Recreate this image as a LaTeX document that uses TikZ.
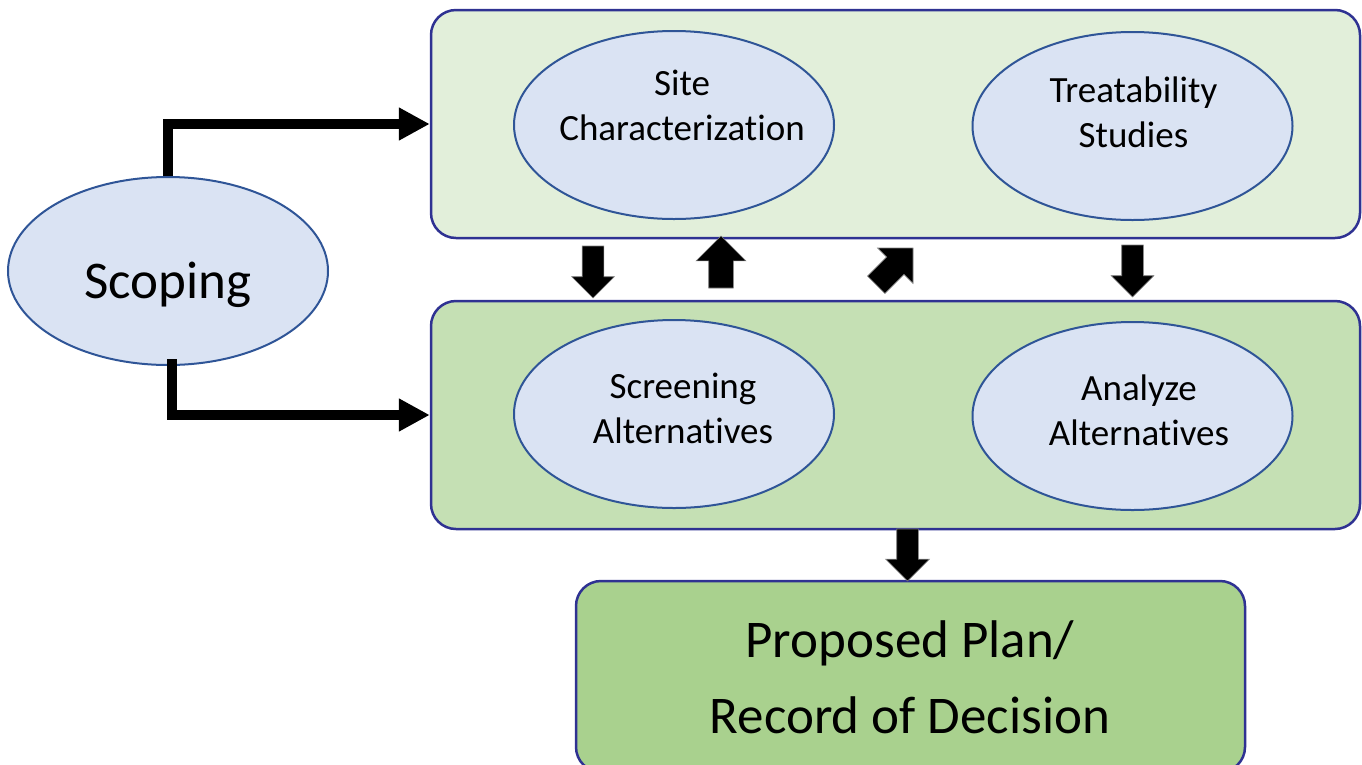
\documentclass[tikz,border=0pt]{standalone}
\usepackage{fontspec}
\setmainfont{Carlito}[Ligatures=NoCommon]
\usetikzlibrary{shapes.geometric,shapes.arrows,arrows.meta}

\definecolor{ellfill}{HTML}{DAE3F3}
\definecolor{ellline}{HTML}{2F5597}
\definecolor{boxline}{HTML}{2F3292}
\definecolor{palegreen}{HTML}{E2EFDA}
\definecolor{midgreen}{HTML}{C5E0B4}
\definecolor{deepgreen}{HTML}{A9D18E}

\tikzset{
    phase/.style={draw=boxline, line width=2.5pt, rounded corners=25pt, minimum width=929pt, minimum height=228pt, inner sep=0pt},
    task/.style={ellipse, draw=ellline, fill=ellfill, line width=2pt, minimum width=320pt, minimum height=188pt, inner sep=0pt},
    tasktext/.style={align=center, inner sep=0pt, font=\fontsize{37}{45}\selectfont},
    bigtext/.style={align=center, inner sep=0pt, font=\fontsize{53}{76}\selectfont},
    blockarrow/.style 2 args={single arrow, fill=black, draw=gray, line width=0.6pt, inner sep=#1, outer sep=0pt, single arrow head extend=#2, minimum height=52pt, anchor=tip},
    elbow/.style={line width=10.5pt, -{Triangle[length=31pt, width=31pt]}}
}

\begin{document}
\begin{tikzpicture}[x=1pt, y=-1pt]
    \useasboundingbox (0, 0) rectangle (1362, 764);

    \node[phase, fill=palegreen] (phase1) at (895.5, 124) {};
    \node[phase, fill=midgreen] (phase2) at (895.5, 415) {};
    \node[phase, fill=deepgreen, minimum width=669pt, minimum height=191pt] (decision) at (910.5, 676.5) {};

    \node[task] (scoping) at (168, 271) {};
    \node[task] (site) at (674, 125) {};
    \node[task] (treat) at (1132.5, 126) {};
    \node[task] (screen) at (674, 414) {};
    \node[task] (analyze) at (1132.5, 416) {};

    \node[bigtext, anchor=base] (scoping-t) at (168, 298) {Scoping};
    \node[tasktext] (site-t) at (682, 105) {Site\\Characterization};
    \node[tasktext] (treat-t) at (1133.5, 112) {Treatability\\Studies};
    \node[tasktext] (screen-t) at (683, 408) {Screening\\Alternatives};
    \node[tasktext] (analyze-t) at (1139, 410) {Analyze\\Alternatives};
    \node[bigtext] (decision-t) at (910, 677) {Proposed Plan/\\Record of Decision};

    \draw[elbow] (scoping.north) |- (phase1.west);
    \draw[elbow] ([xshift=4pt, yshift=7pt]scoping.south) |- (phase2.west);

    \node[blockarrow={10.5pt}{10.5pt}, rotate=-90] (down1) at (593, 298) {};
    \node[blockarrow={12pt}{12.5pt}, rotate=90] (up1) at (721, 236) {};
    \node[blockarrow={12pt}{12.75pt}, rotate=45] (diag1) at (913, 248) {};
    \node[blockarrow={10.5pt}{10.5pt}, rotate=-90] (down2) at (1132.5, 297) {};
    \node[blockarrow={10.5pt}{11pt}, rotate=-90] (down3) at (907.5, 581) {};
\end{tikzpicture}
\end{document}
